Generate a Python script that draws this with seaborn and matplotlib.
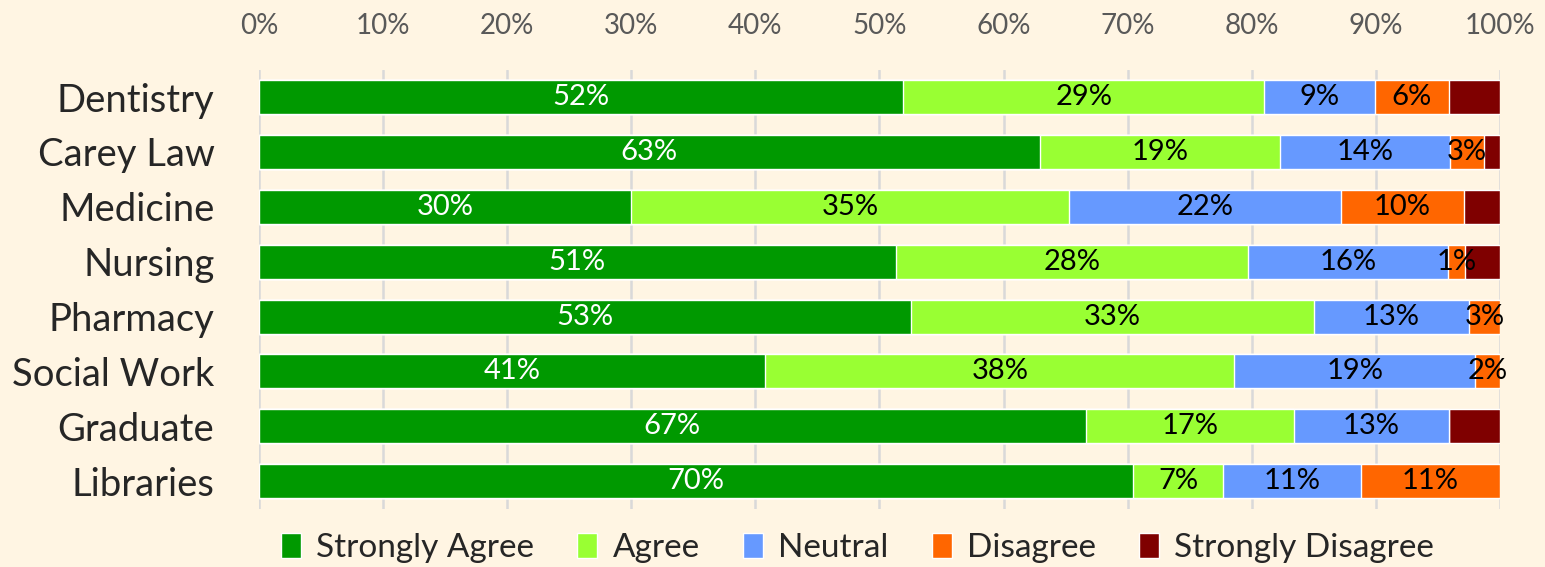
import pandas as pd
import numpy as np
import seaborn as sns
import matplotlib.pyplot as plt
from matplotlib.patches import Patch
from matplotlib.ticker import PercentFormatter

# data (percent of respondents)
schools = ['Dentistry', 'Carey Law', 'Medicine', 'Nursing', 'Pharmacy',
           'Social Work', 'Graduate', 'Libraries']
responses = ['Strongly Agree', 'Agree', 'Neutral', 'Disagree', 'Strongly Disagree']
strongly_agree = [51.9, 62.9, 30.0, 51.3, 52.5, 40.8, 66.6, 70.4]
agree = [29.1, 19.4, 35.3, 28.4, 32.5, 37.8, 16.8, 7.3]
neutral = [8.9, 13.7, 21.9, 16.1, 12.5, 19.4, 12.5, 11.1]
disagree = [6.0, 2.7, 9.9, 1.4, 2.5, 2.0, 0.0, 11.2]
strongly_disagree = [4.1, 1.3, 2.9, 2.8, 0.0, 0.0, 4.1, 0.0]

colors = ['#009900', '#99FF33', '#6699FF', '#FF6600', '#7F0000']
label_colors = ['white', 'black', 'black', 'black', None]
bg = '#FFF5E3'

df = pd.DataFrame({'school': schools, 'Strongly Agree': strongly_agree, 'Agree': agree,
                   'Neutral': neutral, 'Disagree': disagree,
                   'Strongly Disagree': strongly_disagree})
cum = df[responses].cumsum(axis=1)

sns.set_style('white')
plt.rcParams['font.family'] = ['Lato', 'DejaVu Sans']

fig = plt.figure(figsize=(15.45, 5.67), dpi=100, facecolor=bg)
ax = fig.add_axes([0.1676, 0.103, 0.8033, 0.7742])
ax.set_facecolor(bg)

# stacked bars: draw cumulative totals from the outermost segment inward
for resp, col in zip(responses[::-1], colors[::-1]):
    sns.barplot(x=cum[resp], y=df['school'], orient='h', color=col, saturation=1,
                width=0.62, ax=ax, zorder=3)

# segment labels
for i, row in df.iterrows():
    left = 0
    for resp, lc in zip(responses, label_colors):
        v = row[resp]
        if lc is not None and v > 0:
            ax.text(left + v / 2, i, '{}%'.format(int(v + 0.5)), ha='center', va='center',
                    color=lc, fontsize=21, zorder=4)
        left += v

ax.set_xlim(0, 100)
ax.set_ylim(7.5, -0.5)
ax.set_xticks(np.arange(0, 101, 10))
ax.xaxis.set_major_formatter(PercentFormatter(decimals=0))
ax.xaxis.tick_top()
ax.tick_params(axis='x', length=0, pad=22, labelsize=20, labelcolor='#595959')
ax.tick_params(axis='y', length=0, pad=32, labelsize=27.5)
ax.grid(axis='x', color='#D9D9D9', linewidth=1.8, zorder=0)
ax.set_axisbelow(True)
ax.set_xlabel('')
ax.set_ylabel('')
sns.despine(ax=ax, left=True, bottom=True, top=True, right=True)

handles = [Patch(facecolor=c, label=r) for r, c in zip(responses, colors)]
fig.legend(handles=handles, loc='center', bbox_to_anchor=(0.555, 0.033), ncol=5,
           frameon=False, fontsize=24, handlelength=0.6, handleheight=0.75,
           handletextpad=0.45, columnspacing=1.3)

fig.savefig('out.png', dpi=100, facecolor=bg)
